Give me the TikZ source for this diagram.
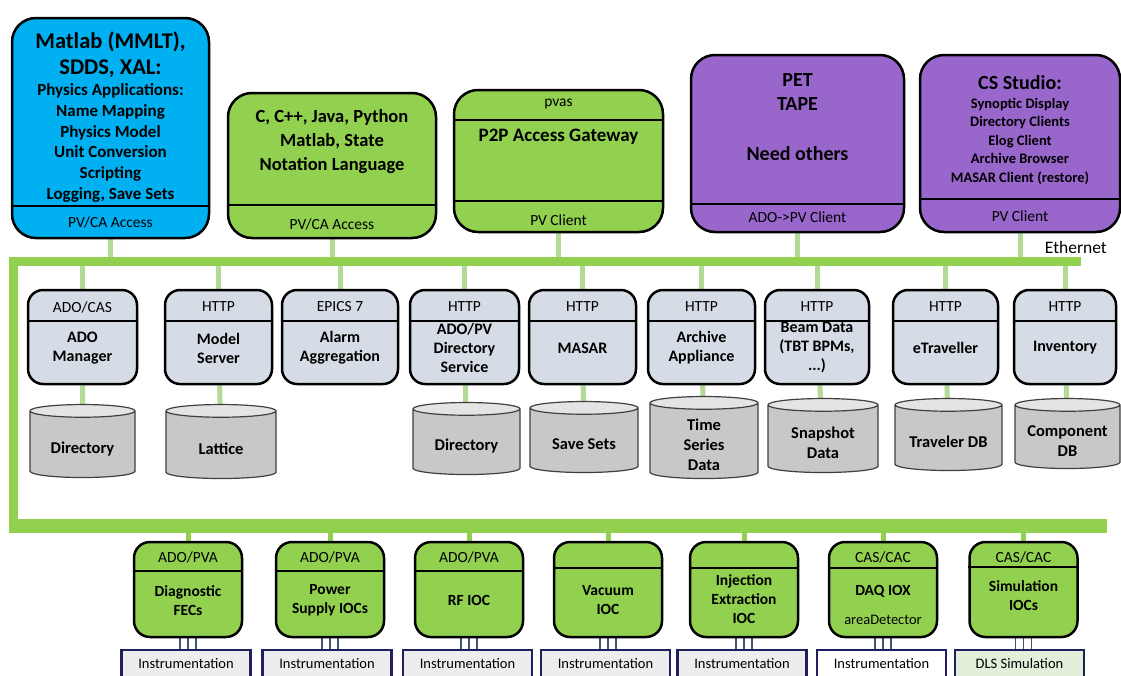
\documentclass[tikz,border=0pt]{standalone}
\usepackage{fontspec}
\setmainfont{Carlito}
\usetikzlibrary{shapes.geometric, backgrounds}

\definecolor{cablue}{HTML}{00B0F0}
\definecolor{iocgreen}{HTML}{92D050}
\definecolor{clipurple}{HTML}{9966CC}
\definecolor{srvgray}{HTML}{D6DCE5}
\definecolor{dbbody}{HTML}{C8C8C8}
\definecolor{dbtop}{HTML}{E4E4E4}
\definecolor{linkgreen}{HTML}{B4DA98}
\definecolor{instrnavy}{HTML}{202060}
\definecolor{instrfill}{HTML}{EDEDED}
\definecolor{simfill}{HTML}{E2EFDA}
\definecolor{wirenavy}{HTML}{44546A}

\newcommand{\fnt}[2]{\fontsize{#1pt}{#2pt}\selectfont}

\tikzset{
  topbox/.style={draw=black, line width=2.5pt, rounded corners=24pt, inner sep=0pt},
  srvbox/.style={draw=black, line width=2.5pt, rounded corners=15pt, fill=srvgray, inner sep=0pt, minimum height=94pt},
  iocbox/.style={draw=black, line width=2.5pt, rounded corners=16pt, fill=iocgreen, inner sep=0pt, minimum width=108pt, minimum height=95pt},
  instr/.style={draw=instrnavy, line width=2.5pt, inner sep=0pt, minimum width=129pt, minimum height=28pt, font=\fnt{14.5}{17}},
  db/.style={cylinder, shape border rotate=90, draw=black!75, line width=1.2pt, cylinder uses custom fill, cylinder body fill=dbbody, cylinder end fill=dbtop, aspect=0.2, inner sep=0pt, font=\fnt{16.5}{20}\bfseries},
  dbtext/.style={font=\fnt{16.5}{20}\bfseries, align=center, inner sep=0pt},
  divline/.style={line width=1.5pt},
  hdr/.style={font=\fnt{15.5}{18}, inner sep=0pt},
  srvtext/.style={font=\fnt{16}{19}\bfseries, align=center, inner sep=0pt},
  ioctext/.style={font=\fnt{15.5}{19}\bfseries, align=center, inner sep=0pt},
  link/.style={draw=linkgreen, line width=5pt},
  buslink/.style={draw=iocgreen, line width=5pt},
  bus/.style={draw=iocgreen, line width=9pt},
  wire/.style={draw=wirenavy, line width=1.8pt},
}

\begin{document}
\begin{tikzpicture}[x=1pt, y=-1pt]
  \useasboundingbox (0,0) rectangle (1121,675);
  \clip (0,0) rectangle (1121,675);

  % Клиенты
  \node[topbox, fill=cablue, minimum width=197pt, minimum height=220pt] (matlab) at (110.5,128) {};
  \draw[divline] (matlab.west |- 0,206) -- (matlab.east |- 0,206);
  \node[font=\fnt{22.5}{26}\bfseries, align=center] (matlab-lang) at (110.5,55) {Matlab (MMLT),\\SDDS, XAL:};
  \node[font=\fnt{17}{20.8}\bfseries, align=center] (matlab-apps) at (110.5,143) {Physics Applications:\\Name Mapping\\Physics Model\\Unit Conversion\\Scripting\\Logging, Save Sets};
  \node[hdr] (matlab-acc) at (110.5,222) {PV/CA Access};

  \node[topbox, fill=iocgreen, minimum width=208pt, minimum height=145pt] (lang) at (332,165.5) {};
  \draw[divline] (lang.west |- 0,205) -- (lang.east |- 0,205);
  \node[font=\fnt{18.5}{24}\bfseries, align=center] (lang-txt) at (332,142) {C, C++, Java, Python\\Matlab, State\\Notation Language};
  \node[hdr] (lang-acc) at (332,224) {PV/CA Access};

  \node[topbox, fill=iocgreen, minimum width=209pt, minimum height=142pt] (gw) at (558.5,161) {};
  \draw[divline] (gw.west |- 0,120) -- (gw.east |- 0,120);
  \draw[divline] (gw.west |- 0,201) -- (gw.east |- 0,201);
  \node[hdr] (gw-hd) at (558.5,104) {pvas};
  \node[font=\fnt{19}{22}\bfseries] (gw-txt) at (558.5,137) {P2P Access Gateway};
  \node[hdr] (gw-acc) at (558.5,220) {PV Client};

  \node[topbox, fill=clipurple, minimum width=213pt, minimum height=177pt] (pet) at (797.5,143.5) {};
  \draw[divline] (pet.west |- 0,204) -- (pet.east |- 0,204);
  \node[font=\fnt{20}{24}\bfseries, align=center] (pet-txt) at (797.5,92) {PET\\TAPE};
  \node[font=\fnt{20}{24}\bfseries] (pet-more) at (797.5,154) {Need others};
  \node[hdr] (pet-acc) at (797.5,217) {ADO->PV Client};

  \node[topbox, fill=clipurple, minimum width=200pt, minimum height=177pt] (css) at (1020,143.5) {};
  \draw[divline] (css.west |- 0,199) -- (css.east |- 0,199);
  \node[font=\fnt{20}{24}\bfseries] (css-hd) at (1020,83) {CS Studio:};
  \node[font=\fnt{14.5}{18.5}\bfseries, align=center] (css-txt) at (1020,141) {Synoptic Display\\Directory Clients\\Elog Client\\Archive Browser\\MASAR Client (restore)};
  \node[hdr] (css-acc) at (1020,216) {PV Client};

  \node[font=\fnt{17.5}{20}, anchor=east, inner sep=0pt] (eth) at (1107,247) {Ethernet};

  % Сервисы
  \foreach \n/\x/\w/\hd/\bd in {1/82.5/109/{ADO/CAS}/{ADO\\Manager},
      2/218.5/107/HTTP/{Model\\Server}, 3/340/116/{EPICS 7}/{Alarm\\Aggregation},
      4/464.5/109/HTTP/{ADO/PV\\Directory\\Service}, 5/582.5/107/HTTP/MASAR,
      6/701.5/107/HTTP/{Archive\\Appliance}, 7/817/104/HTTP/{Beam Data\\(TBT BPMs,\\...)},
      8/945.5/105/HTTP/eTraveller, 9/1065/102/HTTP/Inventory} {
    \node[srvbox, minimum width=\w pt] (srv\n) at (\x,337) {};
    \draw[divline] (srv\n.west |- 0,321) -- (srv\n.east |- 0,321);
    \node[hdr] (srv\n-hd) at (\x,307) {\hd};
    \node[srvtext] (srv\n-bd) at (\x,348) {\bd};
  }

  % Базы данных
  \foreach \n/\x/\w/\ya/\yb/\tx in {1/82.5/105/408/481/Directory, 2/221/110/408/482/Lattice,
      4/466.5/107/406/478/Directory, 5/584/108/405/476/{Save Sets},
      6/704/108/400/482/{Time\\Series\\Data}, 7/823/110/402/476/{Snapshot\\Data},
      8/948.5/107/402/474/{Traveler DB}, 9/1067.5/105/402/472/{Component\\DB}} {
    \pgfmathsetmacro\cy{(\ya+\yb)/2}
    \pgfmathsetmacro\ch{\yb-\ya}
    \node[db, minimum width=\w pt, minimum height=\ch pt] (db\n) at (\x,\cy) {\phantom{Directory}};
    \node[dbtext] (db\n-tx) at ([yshift=-4]db\n.center) {\tx};
  }

  % IOC
  \foreach \n/\x/\hd/\dv/\by/\bd in {1/188/{ADO/PVA}/571/601/{Diagnostic\\FECs},
      2/330/{ADO/PVA}/571/600/{Power\\Supply IOCs}, 3/469/{ADO/PVA}/571/600/{RF IOC},
      4/608/{}/568/600/{Vacuum\\IOC}, 5/744/{}/568/599/{Injection\\Extraction\\IOC},
      6/883/{CAS/CAC}/568/591/{DAQ IOX}, 7/1023.5/{CAS/CAC}/567/596/{Simulation\\IOCs}} {
    \node[iocbox] (io\n) at (\x,589.5) {};
    \draw[divline] (io\n.west |- 0,\dv) -- (io\n.east |- 0,\dv);
    \node[hdr] (io\n-hd) at (\x,557) {\hd};
    \node[ioctext] (io\n-bd) at (\x,\by) {\bd};
  }
  \node[hdr, font=\fnt{14.5}{17}] (io6-ad) at (883,620) {areaDetector};

  % Оборудование
  \foreach \n/\x/\f/\tx in {1/186/instrfill/Instrumentation, 2/327/instrfill/Instrumentation,
      3/467.5/instrfill/Instrumentation, 4/605.5/instrfill/Instrumentation,
      5/742/instrfill/Instrumentation, 6/881.5/white/Instrumentation,
      7/1019.5/simfill/{DLS Simulation}} {
    \node[instr, fill=\f] (in\n) at (\x,664) {\tx};
  }

  % Шина и связи
  \coordinate (busTR) at (1081,261.5);
  \coordinate (busTL) at (13.5,261.5);
  \coordinate (busBL) at (9,525.5);
  \coordinate (busBR) at (1107,525.5);
  \begin{scope}[on background layer]
    \fill[white] (0,0) rectangle (1121,675);
    \foreach \bx in {matlab, lang, gw, pet, css}
      \draw[link] (\bx) -- (\bx |- busTL);
    \foreach \n in {1,...,9}
      \draw[link] (srv\n) -- (srv\n |- busTL);
    \foreach \n in {1,2,4,5,6,7,8,9}
      \draw[link] (srv\n) -- (db\n);
    \foreach \n in {1,...,7} {
      \draw[buslink] (io\n) -- (io\n |- busBL);
      \foreach \d in {-8,0,8}
        \draw[wire] ([xshift=\d]io\n.south) -- ([xshift=\d]io\n.south |- in\n.north);
    }
    \draw[bus] (busTR) -- (busTL) -- (busTL |- busBL);
    \draw[bus, line width=14pt] (busBL) -- (busBR);
  \end{scope}
\end{tikzpicture}
\end{document}
